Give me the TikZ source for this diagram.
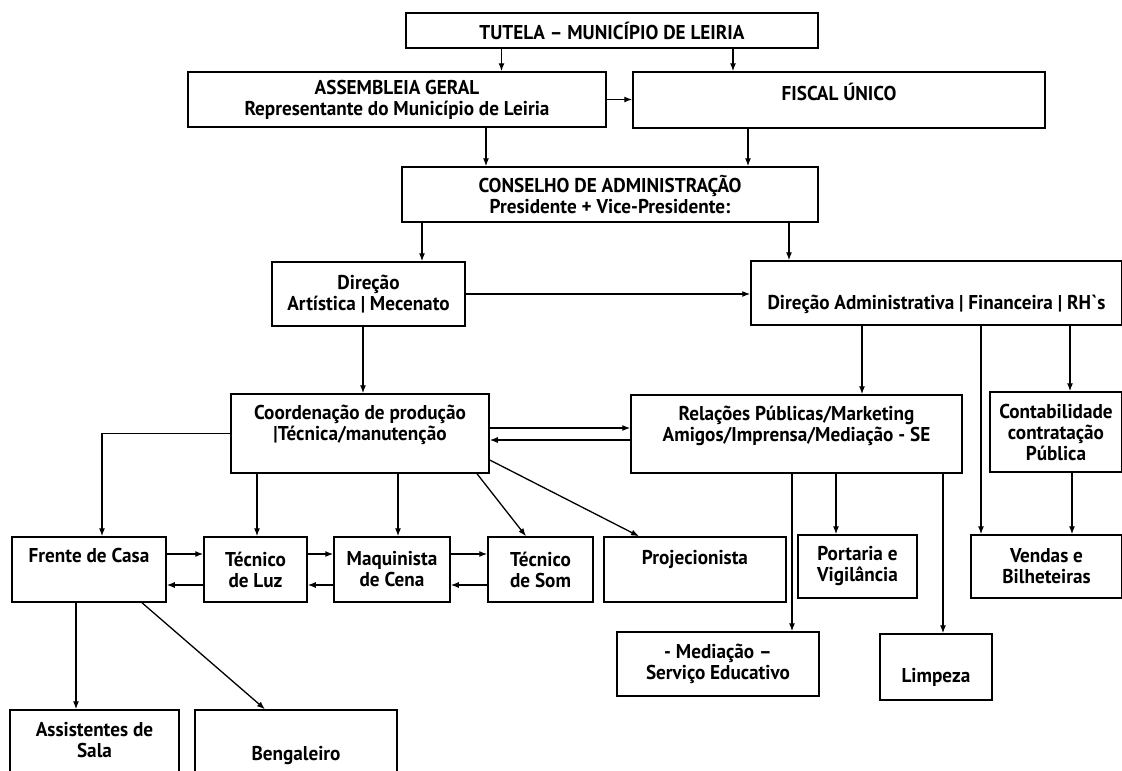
\documentclass[tikz,border=0pt]{standalone}
\usepackage{fontspec}
\setmainfont{PT Sans}[FakeStretch=0.96]
\usepackage{tikz}
\usetikzlibrary{positioning}
\usetikzlibrary{arrows.meta}

\begin{document}
\begin{tikzpicture}[x=1pt,y=-1pt,>={Latex[length=8pt,width=6pt]},
	caixa/.style={draw,rectangle,line width=1.5pt,inner sep=0pt,align=center,font=\fontsize{20}{21}\selectfont\bfseries},
	liga/.style={->,line width=1.3pt}]
	  \useasboundingbox (0,0) rectangle (1122,771);
	  \node (tutela) [caixa,minimum width=412,minimum height=35] at (612,30.5) {TUTELA – MUNICÍPIO DE LEIRIA};
	  \node (assembleia) [caixa,minimum width=418,minimum height=55] at (397,99.5) {ASSEMBLEIA GERAL\\Representante do Município de Leiria};
	  \node (fiscal) [caixa,minimum width=412,minimum height=56,text height=14.5pt,text depth=14.5pt] at (839,100) {FISCAL ÚNICO};
	  \node (conselho) [caixa,minimum width=416,minimum height=55] at (610,194.5) {CONSELHO DE ADMINISTRAÇÃO\\Presidente + Vice-Presidente:};
	  \node (dart) [caixa,minimum width=193,minimum height=64] at (368.5,294) {Direção\\Artística | Mecenato};
	  \node (dadm) [caixa,minimum width=371,minimum height=64,text height=33pt,text depth=0pt] at (936.5,293) {Direção Administrativa | Financeira | RH\textasciigrave s};
	  \node (coord) [caixa,minimum width=258,minimum height=79] at (360,433.5) {Coordenação de produção\\|Técnica/manutenção\\ \mbox{}};
	  \node (rp) [caixa,minimum width=331,minimum height=78] at (796.5,434) {Relações Públicas/Marketing\\Amigos/Imprensa/Mediação - SE\\ \mbox{}};
	  \node (conta) [caixa,minimum width=132,minimum height=80] at (1056,432) {Contabilidade\\contratação\\Pública};
	  \node (frente) [caixa,minimum width=154,minimum height=65,text height=14.5pt,text depth=29.5pt] at (89,569.5) {Frente de Casa};
	  \node (luz) [caixa,minimum width=103,minimum height=65] at (255.5,569.5) {Técnico\\de Luz};
	  \node (maq) [caixa,minimum width=116,minimum height=65] at (392,569.5) {Maquinista\\de Cena};
	  \node (som) [caixa,minimum width=105,minimum height=65] at (540.5,569.5) {Técnico\\de Som};
	  \node (proj) [caixa,minimum width=182,minimum height=65,text height=14.5pt,text depth=25.5pt] at (695,569.5) {Projecionista};
	  \node (portaria) [caixa,minimum width=119,minimum height=63] at (857.5,566.5) {Portaria e\\Vigilância};
	  \node (vendas) [caixa,minimum width=151,minimum height=63] at (1046.5,566.5) {Vendas e\\Bilheteiras};
	  \node (mediacao) [caixa,minimum width=202,minimum height=64] at (718,664) {- Mediação –\\Serviço Educativo};
	  \node (limpeza) [caixa,minimum width=112,minimum height=66,text height=30pt,text depth=0pt] at (936,667) {Limpeza};
	  \node (assist) [caixa,minimum width=169,minimum height=80] at (94.5,750) {Assistentes de\\Sala\\ \mbox{}};
	  \node (beng) [caixa,minimum width=202,minimum height=80,text height=20pt,text depth=0pt] at (296,750) {Bengaleiro};

	  \draw[liga] (tutela.south -| 501.5,0) -- (assembleia.north -| 501.5,0);
	  \draw[liga] (tutela.south -| 733,0) -- (fiscal.north -| 733,0);
	  \draw[liga] (assembleia.east) -- (assembleia.east -| fiscal.west);
	  \draw[liga] (assembleia.south -| 486,0) -- (conselho.north -| 486,0);
	  \draw[liga] (fiscal.south -| 748,0) -- (conselho.north -| 748,0);
	  \draw[liga] (conselho.south -| 422,0) -- (dart.north -| 422,0);
	  \draw[liga] (conselho.south -| 789,0) -- (dadm.north -| 789,0);
	  \draw[liga] (dart.east) -- (dart.east -| dadm.west);
	  \draw[liga] (dart.south -| 363,0) -- (coord.north -| 363,0);
	  \draw[liga] (dadm.south -| 862,0) -- (rp.north -| 862,0);
	  \draw[liga] (dadm.south -| 981,0) -- (vendas.north -| 981,0);
	  \draw[liga] (dadm.south -| 1070,0) -- (conta.north -| 1070,0);
	  \draw[liga] (conta.south -| 1072,0) -- (vendas.north -| 1072,0);
	  \draw[liga] (coord.east |- 0,428) -- (rp.west |- 0,428);
	  \draw[liga] (rp.west |- 0,440) -- (coord.east |- 0,440);
	  \draw[liga] (coord.west) -| (frente.north -| 102,0);
	  \draw[liga] (coord.south -| 257,0) -- (luz.north -| 257,0);
	  \draw[liga] (coord.south -| 398,0) -- (maq.north -| 398,0);
	  \draw[liga] (coord.south -| 477,0) -- (som.north -| 526,0);
	  \draw[liga] (coord.east |- 0,460) -- (proj.north -| 639,0);
	  \draw[liga] (frente.east |- 0,554) -- (luz.west |- 0,554);
	  \draw[liga] (luz.west |- 0,585) -- (frente.east |- 0,585);
	  \draw[liga] (luz.east |- 0,554) -- (maq.west |- 0,554);
	  \draw[liga] (maq.west |- 0,585) -- (luz.east |- 0,585);
	  \draw[liga] (maq.east |- 0,554) -- (som.west |- 0,554);
	  \draw[liga] (som.west |- 0,585) -- (maq.east |- 0,585);
	  \draw[liga] (frente.south -| 76,0) -- (assist.north -| 76,0);
	  \draw[liga] (frente.south -| 142,0) -- (beng.north -| 265,0);
	  \draw[liga] (rp.south -| 792,0) -- (mediacao.north -| 792,0);
	  \draw[liga] (rp.south -| 836,0) -- (portaria.north -| 836,0);
	  \draw[liga] (rp.south -| 943,0) -- (limpeza.north -| 943,0);
	\end{tikzpicture}
\end{document}
